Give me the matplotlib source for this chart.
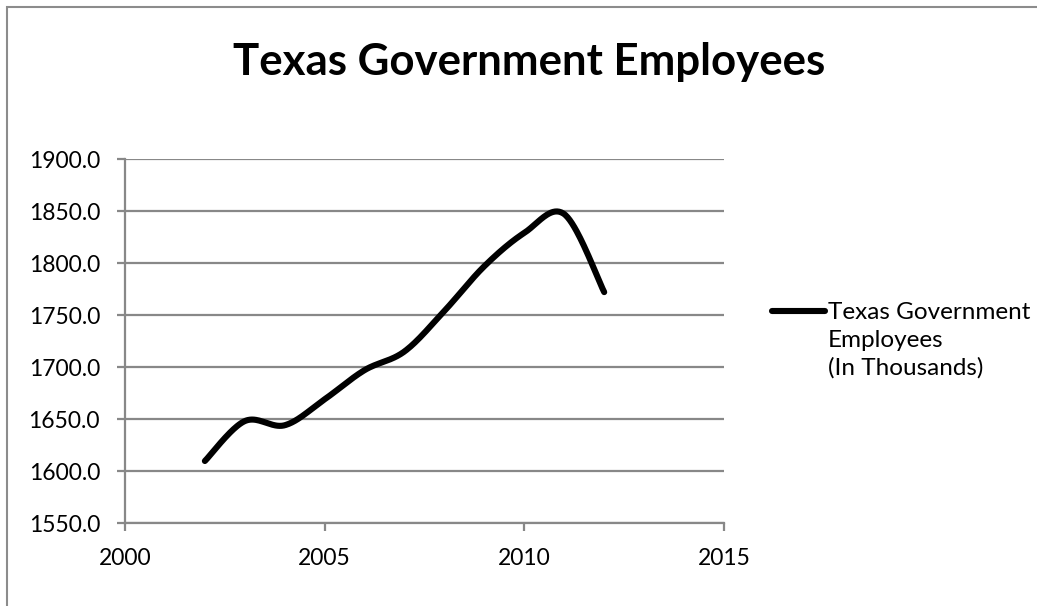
import matplotlib
matplotlib.use('Agg')
import matplotlib.pyplot as plt
import numpy as np
from matplotlib.lines import Line2D
from matplotlib.patches import Rectangle

# Texas government employment, thousands, by year
years = [2002, 2003, 2004, 2005, 2006, 2007, 2008, 2009, 2010, 2011, 2012]
employees = [1609.6, 1648.0, 1644.0, 1669.0, 1697.0, 1715.0, 1754.0, 1797.0, 1829.0, 1847.0, 1772.0]
series_label = ["Texas Government", "Employees", "(In Thousands)"]
chart_title = "Texas Government Employees"
y_ticks = [1550, 1600, 1650, 1700, 1750, 1800, 1850, 1900]
x_ticks = [2000, 2005, 2010, 2015]

GRID = '#888888'
FONT = 'Lato'


def smooth_curve(x, y, steps=40):
    """Bezier smoothing with Catmull-Rom style control points."""
    x = np.asarray(x, float)
    y = np.asarray(y, float)
    px = np.concatenate([[x[0]], x, [x[-1]]])
    py = np.concatenate([[y[0]], y, [y[-1]]])
    xs, ys = [], []
    t = np.linspace(0, 1, steps)
    for i in range(1, len(px) - 2):
        p0 = np.array([px[i], py[i]])
        p3 = np.array([px[i + 1], py[i + 1]])
        c1 = p0 + (np.array([px[i + 1], py[i + 1]]) - np.array([px[i - 1], py[i - 1]])) / 6
        c2 = p3 - (np.array([px[i + 2], py[i + 2]]) - np.array([px[i], py[i]])) / 6
        pts = ((1 - t)[:, None] ** 3 * p0 + 3 * ((1 - t) ** 2 * t)[:, None] * c1
               + 3 * ((1 - t) * t ** 2)[:, None] * c2 + (t ** 3)[:, None] * p3)
        xs.extend(pts[:, 0])
        ys.extend(pts[:, 1])
    return np.array(xs), np.array(ys)


fig = plt.figure(figsize=(10.37, 6.06), dpi=100)
W, H = 1037, 606

# outer chart frame (runs off the right and bottom edges)
fig.patches.append(Rectangle((7 / W, -0.05), 1.1, 1 - 7 / H + 0.05, transform=fig.transFigure,
                             fill=False, edgecolor='#8c8c8c', linewidth=1.5))

ax = fig.add_axes([125 / W, 83 / H, 599 / W, 364 / H])
sx, sy = smooth_curve(years, employees)
ax.plot(sx, sy, color='black', linewidth=4.4, solid_capstyle='round', zorder=3)

ax.set_xlim(2000, 2015)
ax.set_ylim(1550, 1900)
ax.set_xticks(x_ticks)
ax.set_yticks(y_ticks)
ax.set_xticklabels([str(v) for v in x_ticks], fontsize=16.5, family=FONT)
ax.set_yticklabels([f'{v:.1f}' for v in y_ticks], fontsize=16.5, family=FONT)
ax.yaxis.grid(True, color=GRID, linewidth=1.6)
ax.set_axisbelow(True)
for side in ('top', 'right'):
    ax.spines[side].set_visible(False)
for side in ('left', 'bottom'):
    ax.spines[side].set_color(GRID)
    ax.spines[side].set_linewidth(1.6)
ax.tick_params(axis='both', direction='out', length=6, width=1.6, color=GRID)
ax.tick_params(axis='y', pad=12)
ax.tick_params(axis='x', pad=12)

fig.text(529 / W, 1 - 62 / H, chart_title, ha='center', va='center',
         fontsize=31.5, fontweight='bold', family=FONT)

# legend entry, one text per wrapped line
fig.lines.append(Line2D([772 / W, 825 / W], [1 - 311 / H, 1 - 311 / H], transform=fig.transFigure,
                        color='black', linewidth=4.4, solid_capstyle='round'))
for k, line in enumerate(series_label):
    fig.text(828 / W, 1 - (319 + 28 * k) / H, line, ha='left', va='baseline',
             fontsize=17.5, family=FONT)

fig.savefig('out.png', dpi=100, facecolor='white')
